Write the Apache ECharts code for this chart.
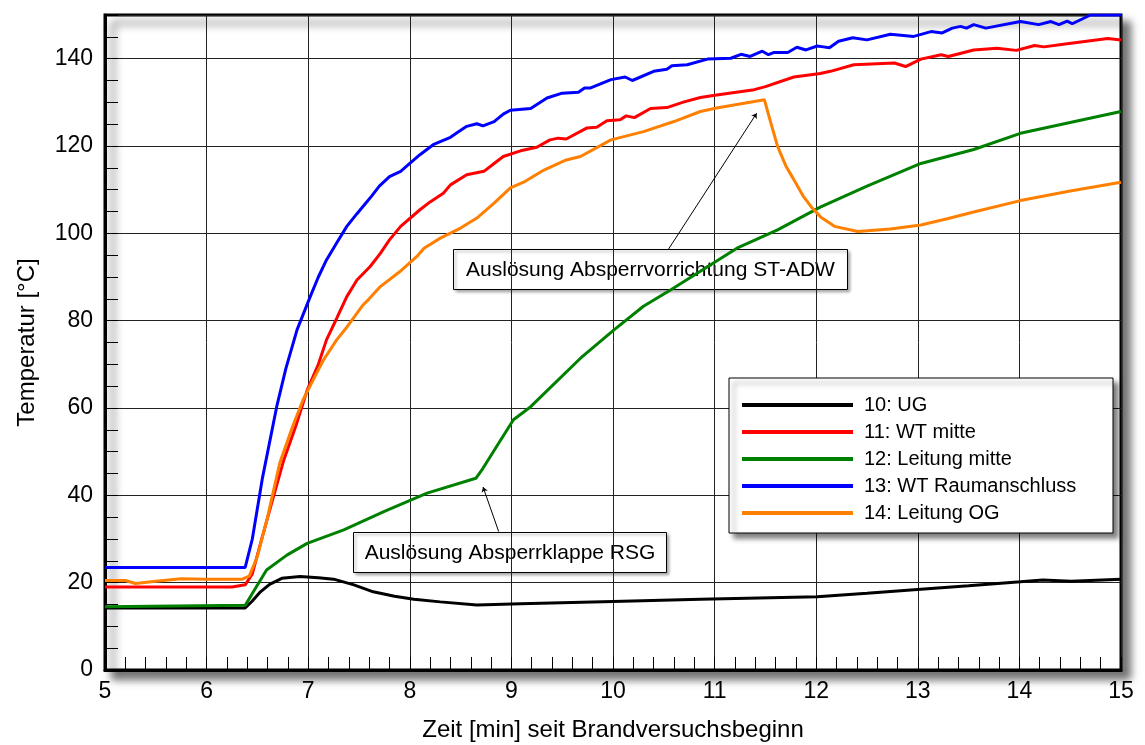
<!DOCTYPE html>
<html>
<head>
<meta charset="utf-8">
<script src="https://cdn.jsdelivr.net/npm/echarts@6/dist/echarts.min.js"></script>
<style>html,body{margin:0;padding:0;background:#fff}#c{width:1145px;height:745px}</style>
</head>
<body>
<div id="c"></div>
<script>
const FONT = '"Liberation Sans", Arial, Helvetica, sans-serif';

const seriesNames = ['10: UG', '11: WT mitte', '12: Leitung mitte', '13: WT Raumanschluss', '14: Leitung OG'];
const seriesColors = ['#000000', '#ff0000', '#008000', '#0000ff', '#ff8000'];

const tUG = [5, 6.38, 6.45, 6.53, 6.62, 6.74, 6.92, 7.1, 7.25, 7.45, 7.64, 7.85, 8.04, 8.3, 8.66, 9.09, 10, 10.86, 12.01, 12.5, 13.03, 13.5, 14.01, 14.23, 14.51, 15];
const vUG = [14.2, 14.2, 15.8, 17.9, 19.6, 21.0, 21.4, 21.1, 20.8, 19.5, 17.9, 16.9, 16.2, 15.6, 14.9, 15.2, 15.7, 16.2, 16.8, 17.6, 18.5, 19.3, 20.2, 20.6, 20.3, 20.8];

const tWTm = [5, 6.25, 6.38, 6.45, 6.54, 6.65, 6.76, 6.88, 6.99, 7.1, 7.18, 7.28, 7.38, 7.48, 7.61, 7.71, 7.8, 7.91, 8.1, 8.2, 8.33, 8.4, 8.56, 8.73, 8.83, 8.92, 9.09, 9.25, 9.38, 9.46, 9.54, 9.74, 9.84, 9.94, 10.07, 10.13, 10.21, 10.37, 10.53, 10.7, 10.86, 11.02, 11.39, 11.5, 11.78, 12.04, 12.14, 12.37, 12.77, 12.88, 13.03, 13.23, 13.3, 13.55, 13.78, 13.97, 14.15, 14.24, 14.47, 14.87, 15];
const vWTm = [19.0, 19.0, 19.5, 22, 29.8, 39, 48.1, 56, 64.1, 70, 75.6, 80.5, 85.5, 89.3, 92.4, 95.4, 98.5, 101.6, 105.4, 107.2, 109.2, 111.1, 113.4, 114.2, 116.0, 117.6, 118.9, 119.7, 121.4, 121.8, 121.6, 124.1, 124.3, 125.8, 126.0, 126.9, 126.5, 128.6, 128.8, 130.1, 131.1, 131.7, 132.9, 133.6, 135.8, 136.6, 137.1, 138.6, 139.0, 138.2, 139.9, 140.9, 140.5, 142.0, 142.4, 141.9, 143.0, 142.7, 143.4, 144.6, 144.3];

const tLm = [5, 6.38, 6.45, 6.59, 6.79, 6.99, 7.35, 7.75, 8.17, 8.65, 8.72, 9.02, 9.19, 9.68, 10.01, 10.3, 10.57, 11.22, 11.62, 12.04, 12.5, 13.03, 13.55, 14.01, 15];
const vLm = [14.5, 14.8, 17.5, 22.9, 26.3, 29.0, 32.1, 36.3, 40.5, 43.9, 46.2, 57.3, 60.3, 71.4, 77.9, 83.3, 87.1, 96.6, 100.8, 106.0, 110.8, 116.0, 119.2, 122.9, 127.9];

const tWTr = [5, 6.38, 6.45, 6.55, 6.69, 6.78, 6.89, 7.02, 7.1, 7.18, 7.28, 7.38, 7.48, 7.58, 7.62, 7.7, 7.8, 7.91, 8.0, 8.1, 8.23, 8.4, 8.45, 8.56, 8.66, 8.72, 8.83, 8.92, 8.99, 9.19, 9.35, 9.5, 9.66, 9.72, 9.78, 9.98, 10.12, 10.19, 10.4, 10.53, 10.58, 10.73, 10.93, 11.16, 11.26, 11.35, 11.47, 11.53, 11.58, 11.72, 11.81, 11.9, 12.01, 12.07, 12.13, 12.22, 12.36, 12.5, 12.73, 12.96, 13.13, 13.24, 13.34, 13.42, 13.48, 13.55, 13.67, 14.01, 14.19, 14.31, 14.39, 14.47, 14.52, 14.7, 15];
const vWTr = [23.5, 23.5, 30, 44, 60.3, 69, 77.9, 85.5, 90, 93.9, 97.8, 101.6, 104.5, 107.3, 108.4, 110.8, 113, 114.2, 116, 118, 120.3, 122.0, 122.8, 124.5, 125.1, 124.6, 125.6, 127.3, 128.2, 128.6, 131.0, 132.1, 132.3, 133.3, 133.3, 135.2, 135.8, 135.0, 137.1, 137.6, 138.4, 138.6, 139.9, 140.1, 141.0, 140.5, 141.7, 140.9, 141.4, 141.4, 142.6, 142.0, 142.9, 142.7, 142.5, 144.0, 144.8, 144.3, 145.6, 145.1, 146.2, 145.9, 147.0, 147.4, 147.0, 147.8, 147.0, 148.5, 147.8, 148.5, 147.8, 148.6, 148.0, 150.0, 150.0];

const tLOG = [5, 5.2, 5.3, 5.5, 5.75, 6.0, 6.35, 6.42, 6.5, 6.6, 6.72, 6.85, 6.95, 7.05, 7.15, 7.28, 7.38, 7.54, 7.6, 7.71, 7.9, 8.07, 8.14, 8.3, 8.5, 8.66, 8.83, 8.99, 9.12, 9.32, 9.54, 9.68, 9.98, 10.3, 10.6, 10.86, 11.02, 11.49, 11.55, 11.62, 11.7, 11.78, 11.87, 11.95, 12.05, 12.18, 12.41, 12.73, 13.03, 13.3, 13.55, 14.01, 14.5, 15];
const vLOG = [20.5, 20.5, 19.8, 20.3, 20.9, 20.8, 20.8, 21.5, 26, 35, 47.4, 56, 61.9, 66.5, 71, 75.6, 78.5, 83.6, 85, 87.8, 91.2, 94.7, 96.6, 98.9, 101.2, 103.5, 106.9, 110.4, 111.7, 114.5, 116.8, 117.6, 121.4, 123.3, 125.6, 127.9, 128.7, 130.6, 125.6, 119.9, 115.5, 112.3, 108.6, 106.1, 103.6, 101.6, 100.4, 101.0, 101.9, 103.4, 104.9, 107.5, 109.7, 111.7];

const xTitle = 'Zeit [min] seit Brandversuchsbeginn';
const yTitle = 'Temperatur [°C]';
const noteADW = 'Auslösung Absperrvorrichtung ST-ADW';
const noteRSG = 'Auslösung Absperrklappe RSG';
const arrowADW = [[10.547, 96.4], [11.414, 127.5]];
const arrowRSG = [[8.875, 31.7], [8.721, 41.9]];

const times = [tUG, tWTm, tLm, tWTr, tLOG];
const values = [vUG, vWTm, vLm, vWTr, vLOG];

function zip(t, v) { return t.map((x, i) => [x, v[i]]); }

const series = seriesNames.map((name, i) => ({
  name: name,
  type: 'line',
  xAxisIndex: 0,
  yAxisIndex: 0,
  data: zip(times[i], values[i]),
  showSymbol: false,
  symbol: 'none',
  smooth: false,
  clip: true,
  lineStyle: { color: seriesColors[i], width: 3 },
  itemStyle: { color: seriesColors[i] },
  z: 3 + i
}));

series[0].markLine = {
  silent: true,
  animation: false,
  symbol: ['none', 'arrow'],
  symbolSize: 5,
  label: { show: false },
  lineStyle: { color: '#000', width: 1, type: 'solid' },
  data: [
    [{ coord: arrowADW[0] }, { coord: arrowADW[1] }],
    [{ coord: arrowRSG[0] }, { coord: arrowRSG[1] }]
  ]
};

function noteBox(x, y, w, h, text) {
  return {
    type: 'group',
    left: x, top: y,
    z: 100,
    children: [
      { type: 'rect', shape: { x: 0, y: 0, width: w, height: h },
        style: { fill: '#fff', stroke: '#000', lineWidth: 1, shadowColor: 'rgba(0,0,0,0.35)', shadowBlur: 3, shadowOffsetX: 2, shadowOffsetY: 2 } },
      { type: 'text', x: w / 2, y: h / 2 + 1,
        style: { text: text, fill: '#000', font: '21px ' + FONT, align: 'center', verticalAlign: 'middle' } }
    ]
  };
}

const chart = echarts.init(document.getElementById('c'), null, { renderer: 'canvas' });
chart.setOption({
  animation: false,
  backgroundColor: '#fff',
  textStyle: { fontFamily: FONT },
  grid: {
    left: 105, right: 24, top: 15, bottom: 75,
    containLabel: false,
    outerBoundsMode: 'none',
    show: true,
    backgroundColor: '#fff',
    borderColor: '#000',
    borderWidth: 3,
    shadowColor: 'rgba(0,0,0,0.55)',
    shadowBlur: 8,
    shadowOffsetX: 8,
    shadowOffsetY: 8
  },
  legend: {
    orient: 'vertical',
    left: 729, top: 378,
    data: seriesNames,
    icon: 'rect',
    itemWidth: 111,
    itemHeight: 4,
    itemGap: 7,
    padding: [17, 8, 10, 13],
    selectedMode: false,
    backgroundColor: '#fff',
    borderColor: '#000',
    borderWidth: 1,
    shadowColor: 'rgba(0,0,0,0.5)',
    shadowBlur: 5,
    shadowOffsetX: 5,
    shadowOffsetY: 5,
    textStyle: { fontSize: 20, lineHeight: 20, color: '#000', fontFamily: FONT, width: 241, padding: [0, 0, 0, 6] }
  },
  xAxis: {
    type: 'value',
    min: 5, max: 15, interval: 1,
    name: xTitle,
    nameLocation: 'middle',
    nameGap: 48,
    nameTextStyle: { fontSize: 24, color: '#000', fontFamily: FONT },
    axisLine: { show: true, onZero: false, lineStyle: { color: '#000', width: 3 } },
    axisTick: { show: true, inside: true, length: 13, lineStyle: { color: '#000', width: 1 } },
    minorTick: { show: true, splitNumber: 5, length: 13, lineStyle: { color: '#000', width: 1 } },
    axisLabel: { fontSize: 23, color: '#000', margin: 10, fontFamily: FONT },
    splitLine: { show: true, lineStyle: { color: '#222', width: 1 } },
    minorSplitLine: { show: false }
  },
  yAxis: [
    {
      type: 'value',
      min: 0, max: 150, interval: 5,
      name: yTitle,
      nameLocation: 'middle',
      nameGap: 66,
      nameTextStyle: { fontSize: 24, color: '#000', fontFamily: FONT },
      axisLine: { show: true, onZero: false, lineStyle: { color: '#000', width: 3 } },
      axisTick: { show: true, inside: true, length: 13, lineStyle: { color: '#000', width: 1 } },
      axisLabel: { fontSize: 23, color: '#000', margin: 12, fontFamily: FONT,
        formatter: v => (v % 20 === 0 ? String(v) : '') },
      splitLine: { show: false }
    },
    {
      type: 'value',
      position: 'left',
      min: 0, max: 150, interval: 20,
      axisLine: { show: false },
      axisTick: { show: false },
      axisLabel: { show: false },
      splitLine: { show: true, lineStyle: { color: '#222', width: 1 } }
    }
  ],
  series: series,
  graphic: [
    noteBox(453, 249, 394, 40, noteADW),
    noteBox(353, 532, 313, 40, noteRSG)
  ]
});
</script>
</body>
</html>
